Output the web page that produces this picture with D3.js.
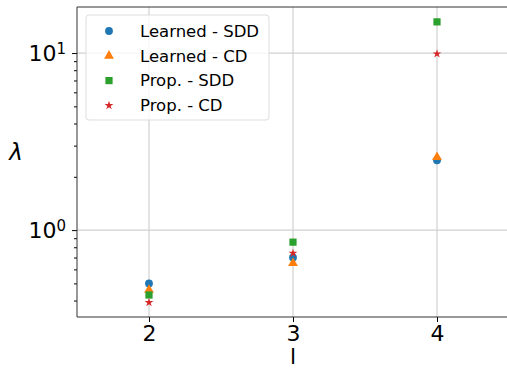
<!DOCTYPE html>
<html>
<head>
<meta charset="utf-8">
<script src="https://cdn.jsdelivr.net/npm/d3@7"></script>
<style>
  body { margin: 0; background: white; }
  text { font-family: "DejaVu Sans", sans-serif; }
</style>
</head>
<body>
<div id="chart"></div>
<script>
/* Daten */
var lValues = [2, 3, 4];
var learnedSDD = [0.50, 0.70, 2.48];
var learnedCD = [0.46, 0.65, 2.58];
var propSDD = [0.43, 0.855, 15.0];
var propCD = [0.39, 0.74, 9.9];
var seriesNames = ["Learned - SDD", "Learned - CD", "Prop. - SDD", "Prop. - CD"];
var seriesColors = ["#1f77b4", "#ff7f0e", "#2ca02c", "#d62728"];
var seriesSymbols = [d3.symbolCircle, d3.symbolTriangle, d3.symbolSquare, d3.symbolStar];
var symbolSizes = [48, 42, 52, 24];
var allSeries = [learnedSDD, learnedCD, propSDD, propCD];

/* Größe */
var width = 507, height = 369;
var margin = {top: 7, right: -2, bottom: 52, left: 77};
var w = width - margin.left - margin.right,
    h = height - margin.top - margin.bottom;

var svg = d3.select("#chart").append("svg").attr("width", width).attr("height", height);
var g = svg.append("g").attr("transform", "translate(" + margin.left + "," + margin.top + ")");

var x = d3.scaleLinear().domain([1.5, 4.5]).range([0, w]);
var y = d3.scaleLog().domain([0.323, 18.2]).range([h, 0]);

/* Gitter */
var majorY = [1, 10];
g.append("g").selectAll("line").data(lValues).enter().append("line")
  .attr("x1", function(d) {return x(d);}).attr("x2", function(d) {return x(d);})
  .attr("y1", 0).attr("y2", h).attr("stroke", "#d0d0d0").attr("stroke-width", 1.2);
g.append("g").selectAll("line").data(majorY).enter().append("line")
  .attr("x1", 0).attr("x2", w)
  .attr("y1", function(d) {return y(d);}).attr("y2", function(d) {return y(d);})
  .attr("stroke", "#d0d0d0").attr("stroke-width", 1.2);

/* Achsen */
var xAxis = g.append("g").attr("transform", "translate(0," + h + ")")
  .call(d3.axisBottom(x).tickValues(lValues).tickFormat(d3.format("d")).tickSize(5).tickPadding(3));
xAxis.select(".domain").remove();
xAxis.selectAll("text").attr("font-size", "22px").attr("fill", "#000");

var minorY = [];
[0.1, 1, 10].forEach(function(b) {
  for (var k = 2; k <= 9; k++) {
    var v = b * k;
    if (v > y.domain()[0] && v < y.domain()[1]) minorY.push(v);
  }
});
var yMinor = g.append("g").call(d3.axisLeft(y).tickValues(minorY).tickFormat("").tickSize(3));
yMinor.select(".domain").remove();

var yAxis = g.append("g").call(d3.axisLeft(y).tickValues(majorY).tickFormat("").tickSize(5));
yAxis.select(".domain").remove();
yAxis.selectAll(".tick").each(function(d) {
  var t = d3.select(this).append("text").attr("x", -11).attr("dy", "0.35em")
    .attr("text-anchor", "end").attr("fill", "#000").attr("font-size", "22px");
  t.append("tspan").text("10");
  t.append("tspan").attr("dy", "-0.5em").attr("font-size", "15px").text(Math.round(Math.log10(d)));
});

/* Rahmen */
g.append("line").attr("x1", 0).attr("x2", 0).attr("y1", 0).attr("y2", h).attr("stroke", "#333").attr("stroke-width", 1);
g.append("line").attr("x1", 0).attr("x2", w).attr("y1", h).attr("y2", h).attr("stroke", "#333").attr("stroke-width", 1);
g.append("line").attr("x1", 0).attr("x2", w).attr("y1", 0).attr("y2", 0).attr("stroke", "#333").attr("stroke-width", 1);

/* Punkte */
allSeries.forEach(function(vals, si) {
  g.append("g").selectAll("path").data(vals).enter().append("path")
    .attr("d", d3.symbol().type(seriesSymbols[si]).size(symbolSizes[si]))
    .attr("transform", function(d, i) {return "translate(" + x(lValues[i]) + "," + y(d) + ")";})
    .attr("fill", seriesColors[si]);
});

/* Beschriftung */
svg.append("text").attr("x", 16).attr("y", 160).attr("text-anchor", "middle")
  .attr("font-size", "23px").attr("font-style", "italic").text("λ");
svg.append("text").attr("x", margin.left + x(3)).attr("y", 364).attr("text-anchor", "middle")
  .attr("font-size", "22px").text("l");

/* Legende */
var leg = svg.append("g").attr("transform", "translate(86,15)");
leg.append("rect").attr("width", 183).attr("height", 105).attr("rx", 3)
  .attr("fill", "white").attr("fill-opacity", 0.8).attr("stroke", "#dddddd");
seriesNames.forEach(function(name, si) {
  var yy = 16 + si * 24.8;
  leg.append("path").attr("d", d3.symbol().type(seriesSymbols[si]).size(symbolSizes[si]))
    .attr("transform", "translate(23," + yy + ")").attr("fill", seriesColors[si]);
  leg.append("text").attr("x", 54).attr("y", yy).attr("dy", "0.35em")
    .attr("font-size", "16.5px").text(name);
});
</script>
</body>
</html>
